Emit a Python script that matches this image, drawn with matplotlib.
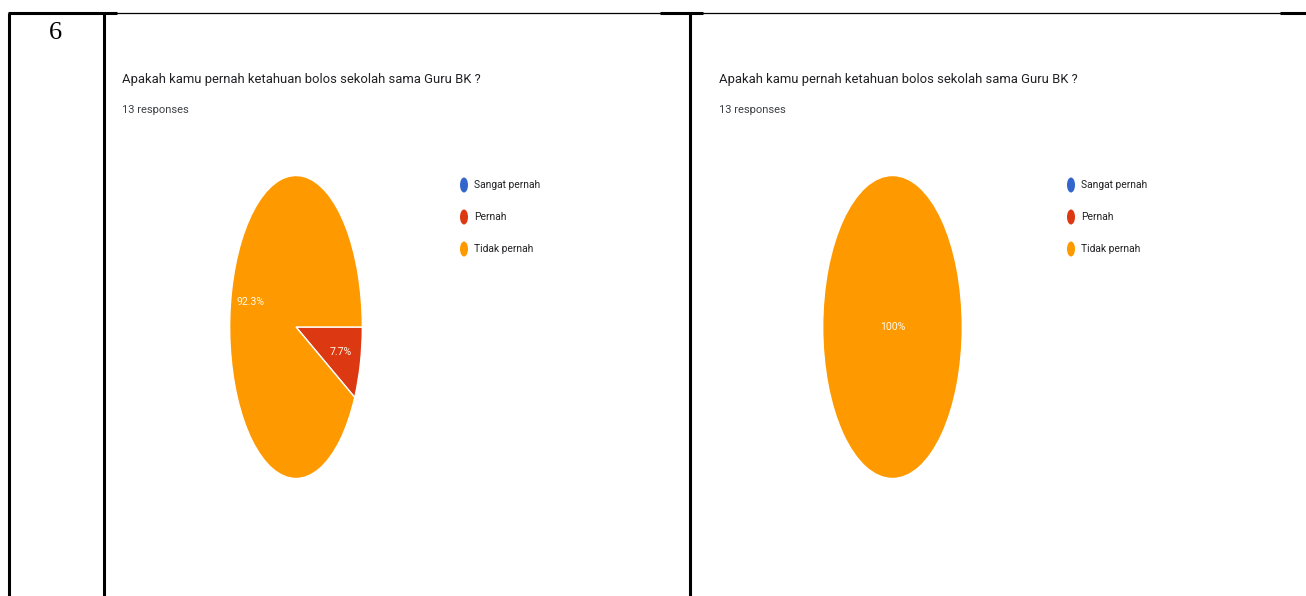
import matplotlib.pyplot as plt
import numpy as np
from matplotlib.patches import Ellipse

# survey answers, two runs of the same question
question = "Apakah kamu pernah ketahuan bolos sekolah sama Guru BK ?"
responses_label = "13 responses"
row_number = "6"
options = ["Sangat pernah", "Pernah", "Tidak pernah"]
counts_before = [0, 1, 12]
counts_after = [0, 0, 13]
colors = ["#3366CC", "#DC3912", "#FF9900"]

W, H = 1306, 596
SANS = ["Roboto", "Liberation Sans", "DejaVu Sans"]

fig = plt.figure(figsize=(W / 100, H / 100), dpi=100)

# full-figure axes in pixel coordinates for the table frame and text
bg = fig.add_axes([0, 0, 1, 1])
bg.set_xlim(0, W)
bg.set_ylim(H, 0)
bg.axis("off")

# table rules
for x in (9, 104, 690):
    bg.plot([x, x], [13, H], color="black", lw=2.2, solid_capstyle="butt")
bg.plot([117, 1306], [12.5, 12.5], color="black", lw=0.9)
for x0, x1 in ((8, 117), (660, 703), (1280, 1306)):
    bg.plot([x0, x1], [13, 13], color="black", lw=2.2, solid_capstyle="butt")

bg.text(55, 33, row_number, ha="center", va="center", fontsize=19,
        family=["Liberation Serif", "DejaVu Serif"], color="black")


def draw_panel(counts, x_text, pie_box, legend_x):
    bg.text(x_text, 79, question, ha="left", va="center", fontsize=9.4,
            family=SANS, color="#202124")
    bg.text(x_text, 110, responses_label, ha="left", va="center", fontsize=8,
            family=SANS, color="#3c4043")

    # legend: squeezed dots with labels
    for i, (name, col) in enumerate(zip(options, colors)):
        y = 185 + i * 32
        bg.add_patch(Ellipse((legend_x, y), 8, 15, color=col, lw=0))
        bg.text(legend_x + 10, y, name, ha="left", va="center", fontsize=7.4,
                family=SANS, color="#202124")

    x0, y0, x1, y1 = pie_box
    ax = fig.add_axes([x0 / W, (H - y1) / H, (x1 - x0) / W, (y1 - y0) / H])
    ax.pie(counts, colors=colors, startangle=0, counterclock=False,
           wedgeprops=dict(edgecolor="white", linewidth=1.0))
    ax.set_aspect("auto")
    ax.set_xlim(-1.01, 1.01)
    ax.set_ylim(-1.01, 1.01)
    ax.axis("off")

    total = sum(counts)
    start = 0.0
    for c in counts:
        if c == 0:
            continue
        frac = c / total
        mid = np.deg2rad(start - frac * 180)
        start -= frac * 360
        r = 0.0 if frac >= 1 else 0.7
        pct = f"{frac * 100:.1f}%" if frac < 1 else "100%"
        ax.text(r * np.cos(mid), r * np.sin(mid), pct, ha="center",
                va="center", fontsize=7.6, family=SANS, color="#FFF8E6")


draw_panel(counts_before, 122, (229, 174, 363, 480), 464)
draw_panel(counts_after, 719, (822, 174, 963, 480), 1071)

fig.savefig("out.png", dpi=100)
